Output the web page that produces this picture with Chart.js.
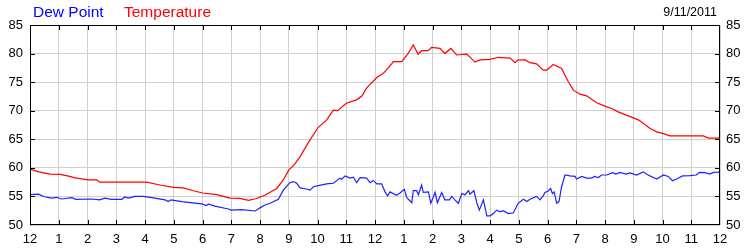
<!DOCTYPE html>
<html>
<head>
<meta charset="utf-8">
<script src="https://cdn.jsdelivr.net/npm/chart.js@4.4.0/dist/chart.umd.min.js"></script>
<style>
  body { margin: 0; background: #fff; }
  canvas { display: block; }
</style>
</head>
<body>
<canvas id="myChart" width="750" height="250"></canvas>
<script>
//--------------------------------- Data -------------------------------//
var chartDate = "9/11/2011";
var xTickLabels = ["12","1","2","3","4","5","6","7","8","9","10","11","12","1","2","3","4","5","6","7","8","9","10","11","12"];
var yTicks = [50, 55, 60, 65, 70, 75, 80, 85];

// temperature, hours since midnight
var tempHours = [0,0.3,0.7,1.05,1.3,1.62,2.03,2.32,2.43,3.0,3.5,4.06,4.52,4.99,5.33,5.68,6.0,6.5,6.96,7.3,7.6,7.85,
  8.17,8.58,8.8,9.0,9.2,9.4,9.74,10.03,10.32,10.55,10.7,11.0,11.36,11.55,11.7,12.06,12.28,12.45,12.64,12.93,
  13.15,13.33,13.5,13.62,13.85,13.97,14.26,14.43,14.64,14.84,15.19,15.48,15.65,16.0,16.29,16.7,16.87,16.98,
  17.22,17.39,17.62,17.85,17.97,18.2,18.49,18.72,18.9,19.13,19.36,19.71,20.0,20.23,20.46,20.81,21.16,21.33,
  21.57,21.8,22.03,22.26,23.42,23.6,24];
var tempValues = [59.8,59.3,58.9,58.85,58.6,58.2,57.9,57.9,57.5,57.5,57.5,57.5,57.0,56.6,56.5,56.0,55.6,55.3,54.7,54.65,54.3,54.6,
  55.2,56.4,57.8,59.6,60.6,62.0,64.9,67.1,68.4,70.1,70.0,71.3,71.9,72.6,73.9,75.8,76.5,77.4,78.6,78.6,
  80.0,81.5,79.9,80.5,80.5,81.1,80.9,80.0,80.9,79.75,79.9,78.5,78.9,79.0,79.35,79.2,78.4,78.9,
  78.9,78.4,78.2,77.1,77.1,78.1,77.4,75.1,73.6,72.9,72.6,71.4,70.8,70.4,69.8,69.1,68.4,67.8,
  66.9,66.3,66.0,65.6,65.6,65.2,65.2];

// dew point
var dewHours = [0,0.3,0.5,0.75,0.93,1.1,1.45,1.6,2.15,2.43,2.6,2.84,3.19,3.3,3.42,3.65,3.94,4.23,4.7,4.81,4.9,5.28,
  5.97,6.14,6.2,6.43,6.9,7.0,7.36,7.83,8.0,8.17,8.35,8.64,8.81,9.04,9.16,9.28,9.39,9.62,9.74,9.86,10.03,
  10.32,10.55,10.78,10.84,10.96,11.13,11.25,11.36,11.48,11.71,11.83,11.94,12.06,12.23,12.35,12.44,12.52,
  12.75,12.87,13.02,13.1,13.16,13.28,13.33,13.45,13.51,13.62,13.68,13.86,13.94,14.03,14.09,14.17,14.32,
  14.43,14.59,14.67,14.78,14.9,15.02,15.13,15.25,15.3,15.44,15.54,15.63,15.77,15.89,16.0,16.12,16.23,
  16.35,16.46,16.64,16.81,16.98,17.16,17.28,17.39,17.62,17.74,17.85,17.91,18.03,18.11,18.17,18.23,18.32,
  18.4,18.49,18.61,18.78,18.96,19.01,19.19,19.36,19.54,19.63,19.77,19.88,20.06,20.27,20.38,20.52,20.73,
  20.87,21.1,21.33,21.5,21.8,22.03,22.2,22.35,22.49,22.7,22.96,23.17,23.29,23.48,23.65,23.77,23.94,24];
var dewValues = [55.3,55.4,54.95,54.7,54.85,54.55,54.8,54.5,54.55,54.4,54.7,54.5,54.5,54.9,54.7,55.0,55.0,54.8,54.4,54.1,54.4,54.1,
  53.7,53.4,53.7,53.3,52.8,52.6,52.7,52.45,53.0,53.5,53.8,54.5,56.1,57.4,57.6,57.3,56.5,56.3,56.1,56.7,56.9,
  57.2,57.3,58.2,58.0,58.6,58.2,58.35,57.4,58.3,58.2,57.4,57.8,57.2,57.2,55.8,55.1,55.8,
  55.2,55.6,56.25,54.85,54.5,53.9,56.0,56.0,55.3,57.0,55.7,55.8,53.8,54.9,55.7,53.9,55.7,
  54.4,54.4,55.0,54.4,53.8,55.5,55.3,56.0,55.4,56.0,53.9,52.6,54.4,51.6,51.6,52.0,52.6,
  52.3,52.5,52.0,52.1,53.8,54.5,54.1,54.5,55.0,54.4,55.1,55.7,55.95,56.4,55.5,55.8,53.8,
  54.1,56.7,58.75,58.6,58.5,58.05,58.5,58.2,58.2,58.5,58.3,58.75,58.75,59.15,58.9,59.2,58.9,
  59.1,58.75,59.3,58.75,58.05,58.75,58.5,57.75,58.05,58.6,58.65,58.75,59.2,59.15,58.9,59.2,59.25,59.4];

//--------------------------------- Helpers -------------------------------//
function toPoints(xs, ys){
  var pts = [];
  for (var i = 0; i < xs.length; i++){
    pts.push({x: xs[i], y: ys[i]});
  }
  return pts;
}

var FONT = "'Liberation Sans', Arial, sans-serif";

// frame, inner tick marks and the header texts
var framePlugin = {
  id: 'frame',
  afterDraw: function(chart){
    var ctx = chart.ctx;
    var a = chart.chartArea;
    var xs = chart.scales.x;
    var ys = chart.scales.y;
    ctx.save();
    ctx.strokeStyle = '#000';
    ctx.lineWidth = 1;
    ctx.beginPath();
    for (var h = 1; h < xTickLabels.length - 1; h++){
      var px = Math.round(xs.getPixelForValue(h)) + 0.5;
      ctx.moveTo(px, a.top); ctx.lineTo(px, a.top + 5);
      ctx.moveTo(px, a.bottom); ctx.lineTo(px, a.bottom - 5);
    }
    for (var i = 1; i < yTicks.length - 1; i++){
      var py = Math.round(ys.getPixelForValue(yTicks[i])) + 0.5;
      ctx.moveTo(a.left, py); ctx.lineTo(a.left + 5, py);
      ctx.moveTo(a.right, py); ctx.lineTo(a.right - 5, py);
    }
    ctx.stroke();
    ctx.strokeRect(a.left + 0.5, a.top + 0.5, a.right - a.left - 1, a.bottom - a.top - 1);

    ctx.textBaseline = 'alphabetic';
    ctx.font = '15.5px ' + FONT;
    ctx.textAlign = 'left';
    ctx.fillStyle = '#0000ff';
    ctx.fillText('Dew Point', 33, 17);
    ctx.fillStyle = '#ff0000';
    ctx.fillText('Temperature', 124, 17);
    ctx.font = '12.5px ' + FONT;
    ctx.fillStyle = '#000';
    ctx.textAlign = 'right';
    ctx.fillText(chartDate, 717, 16);
    ctx.restore();
  }
};

//--------------------------------- Chart -------------------------------//
new Chart("myChart", {
  type: "line",
  data: {
    datasets: [
      {
        label: "Dew Point",
        data: toPoints(dewHours, dewValues),
        borderColor: "#2020ff",
        borderWidth: 1.2,
        pointRadius: 0,
        tension: 0
      },
      {
        label: "Temperature",
        data: toPoints(tempHours, tempValues),
        borderColor: "#ff0000",
        borderWidth: 1.2,
        pointRadius: 0,
        tension: 0
      }
    ]
  },
  options: {
    responsive: false,
    devicePixelRatio: 1,
    animation: false,
    layout: { padding: { top: 25, left: 0, right: 0, bottom: 0 } },
    plugins: {
      legend: { display: false },
      title: { display: false },
      tooltip: { enabled: false }
    },
    scales: {
      x: {
        type: 'linear',
        min: 0,
        max: 24,
        afterFit: function(s){ s.height = 25; },
        afterBuildTicks: function(s){
          s.ticks = xTickLabels.map(function(t, i){ return {value: i}; });
        },
        grid: { color: '#d0d0d0', drawTicks: false },
        border: { display: false },
        ticks: {
          autoSkip: false,
          maxRotation: 0,
          padding: 7,
          color: '#000',
          font: { family: FONT, size: 13 },
          callback: function(v){ return xTickLabels[v]; }
        }
      },
      y: {
        position: 'left',
        min: 50,
        max: 85,
        afterFit: function(s){ s.width = 30; },
        afterBuildTicks: function(s){
          s.ticks = yTicks.map(function(v){ return {value: v}; });
        },
        grid: { color: '#d0d0d0', drawTicks: false },
        border: { display: false },
        ticks: {
          padding: 7,
          color: '#000',
          font: { family: FONT, size: 13 }
        }
      },
      y2: {
        position: 'right',
        min: 50,
        max: 85,
        afterFit: function(s){ s.width = 30; },
        afterBuildTicks: function(s){
          s.ticks = yTicks.map(function(v){ return {value: v}; });
        },
        grid: { drawOnChartArea: false, drawTicks: false },
        border: { display: false },
        ticks: {
          padding: 6,
          color: '#000',
          font: { family: FONT, size: 13 }
        }
      }
    }
  },
  plugins: [framePlugin]
});
</script>
</body>
</html>
